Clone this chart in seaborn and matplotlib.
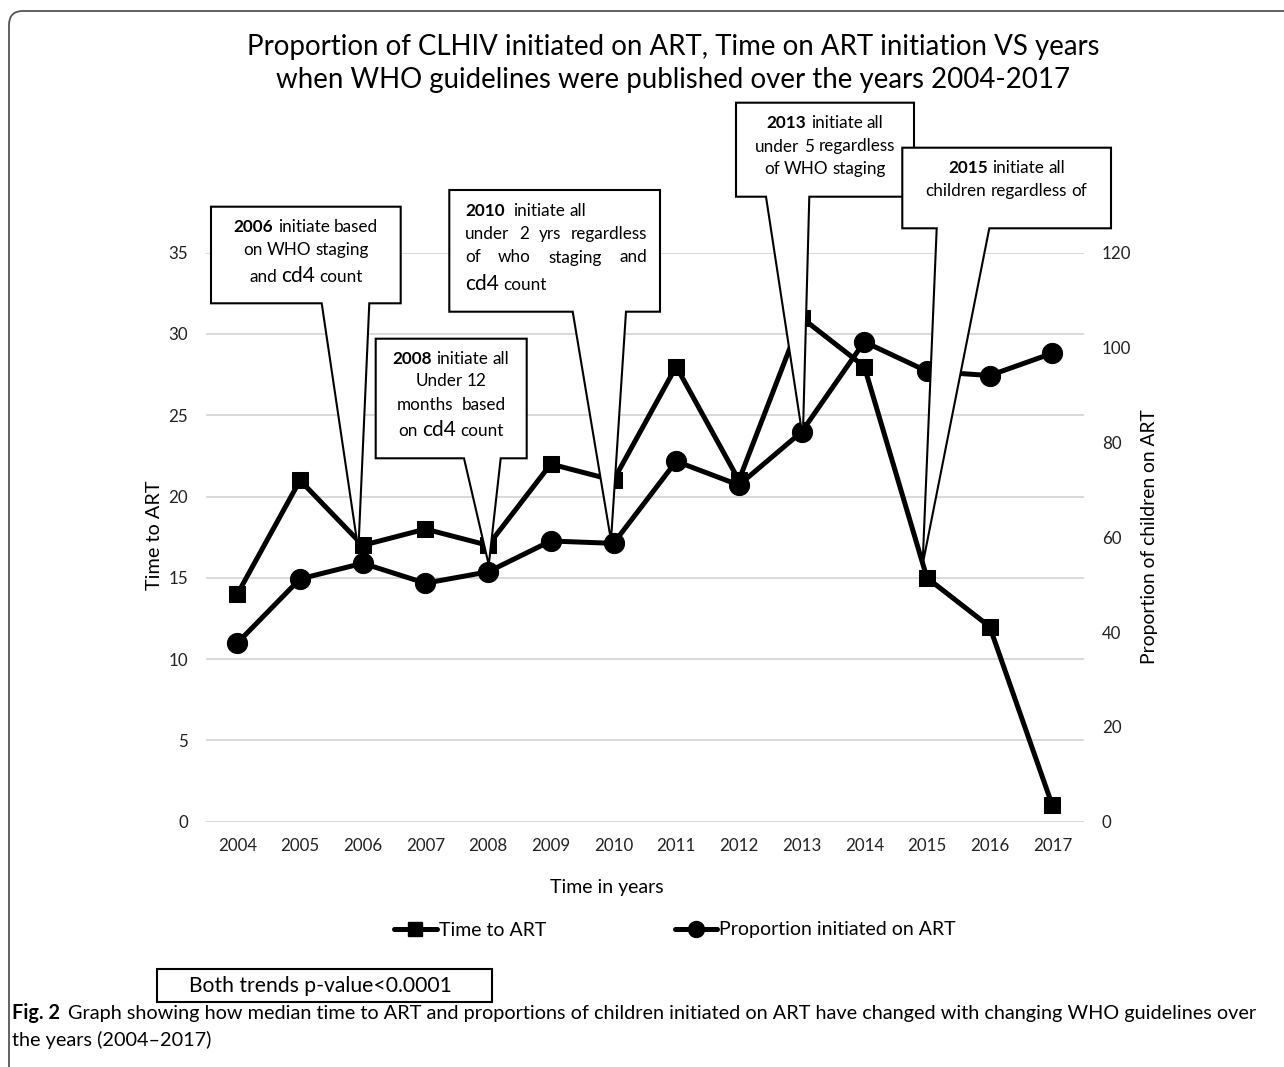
import matplotlib
matplotlib.use("Agg")
import matplotlib.pyplot as plt
import seaborn as sns
import numpy as np
import pandas as pd
from matplotlib.patches import Polygon, FancyBboxPatch, Rectangle
from matplotlib.lines import Line2D
from matplotlib.transforms import IdentityTransform

# ---------------- data ----------------
years = [2004, 2005, 2006, 2007, 2008, 2009, 2010, 2011, 2012, 2013, 2014, 2015, 2016, 2017]
time_to_art = [14, 21, 17, 18, 17, 22, 21, 28, 21, 31, 28, 15, 12, 1]
prop_on_art = [37.7, 51.2, 54.5, 50.3, 52.7, 59.2, 58.7, 76.0, 71.0, 82.2, 101.2, 95.0, 94.1, 98.8]
left_ticks = [0, 5, 10, 15, 20, 25, 30, 35]
right_ticks = [0, 20, 40, 60, 80, 100, 120]

title_lines = ["Proportion of CLHIV initiated on ART, Time on ART initiation VS years",
               "when WHO guidelines were published over the years 2004-2017"]
series_names = ["Time to ART", "Proportion initiated on ART"]
xlabel = "Time in years"
ylabel_left = "Time to ART"
ylabel_right = "Proportion of children on ART"
pvalue_text = "Both trends p-value<0.0001"
caption_bold = "Fig. 2"
caption_line1 = "Graph showing how median time to ART and proportions of children initiated on ART have changed with changing WHO guidelines over"
caption_line2 = "the years (2004\u20132017)"

W, H = 1284, 1067
sns.set_theme(style="white")
plt.rcParams['font.family'] = ['Lato', 'DejaVu Sans']
plt.rcParams['text.color'] = 'black'

fig = plt.figure(figsize=(W / 100, H / 100), dpi=100)
fig.patch.set_facecolor('white')
renderer = fig.canvas.get_renderer()
ID = IdentityTransform()

ax_l, ax_r, ax_t, ax_b = 206, 1083.7, 252.7, 821.7
ax = fig.add_axes([ax_l / W, 1 - ax_b / H, (ax_r - ax_l) / W, (ax_b - ax_t) / H])
ax2 = ax.twinx()

df = pd.DataFrame({"year": years, "time": time_to_art, "prop": prop_on_art})

sns.lineplot(data=df, x="year", y="time", ax=ax, color="black", linewidth=3.6,
             marker="s", markersize=12, markeredgecolor="black", legend=False)
sns.lineplot(data=df, x="year", y="prop", ax=ax2, color="black", linewidth=3.6,
             marker="o", markersize=14.5, markeredgecolor="black", legend=False)

ax.set_xlim(2003.5, 2017.5)
ax.set_ylim(0, 35)
ax2.set_ylim(0, 120)
ax.set_xticks(years)
ax.set_xticklabels([str(y) for y in years])
ax.set_yticks(left_ticks)
ax2.set_yticks(right_ticks)
ax.yaxis.grid(True, color="#d9d9d9", linewidth=1.4)
ax.xaxis.grid(False)
ax2.grid(False)
ax.set_axisbelow(True)
for a in (ax, ax2):
    for s in a.spines.values():
        s.set_visible(False)
    a.set_xlabel("")
    a.set_ylabel("")
ax.tick_params(axis="both", length=0, labelsize=12.2, colors="#222222")
ax.tick_params(axis="y", pad=13)
ax.tick_params(axis="x", pad=12)
ax2.tick_params(axis="y", length=0, labelsize=12.2, pad=13, colors="#222222")

# ---------------- helpers (pixel coordinates, y from top) ----------------
def put(x, y, s, size, weight="normal", ha="left", va="baseline", z=20, rot=0):
    return fig.text(x, H - y, s, transform=ID, fontsize=size, fontweight=weight,
                    ha=ha, va=va, zorder=z, rotation=rot, color="black")

def wid(t):
    return t.get_window_extent(renderer).width

def space_w(size, weight="normal"):
    a = put(0, 0, "x x", size, weight)
    b = put(0, 0, "xx", size, weight)
    w = wid(a) - wid(b)
    a.remove(); b.remove()
    return w

def rich(x, y, words, align="center", z=20, justify=None):
    texts = [put(0, y, s, sz, wt, z=z) for s, sz, wt in words]
    ws = [wid(t) for t in texts]
    base_size = min(sz for _, sz, _ in words)
    gap = space_w(base_size)
    if justify is not None and len(words) > 1:
        gap = (justify - sum(ws)) / (len(words) - 1)
    total = sum(ws) + gap * (len(words) - 1)
    cx = x - total / 2 if align == "center" else x
    for t, w in zip(texts, ws):
        t.set_position((cx, H - y))
        cx += w + gap
    return texts

def fit(x, y, s, target, size0, weight="normal", ha="left", va="baseline", z=20):
    t = put(x, y, s, size0, weight, ha=ha, va=va, z=z)
    w = wid(t)
    t.set_fontsize(size0 * target / w)
    return t

# ---------------- callouts ----------------
def callout(box, base, tip_data, z):
    x0, y0, x1, y1 = box
    tx, ty = ax.transData.transform(tip_data)
    pts = [(x0, H - y0), (x1, H - y0), (x1, H - y1), (base[1], H - y1),
           (tx, ty), (base[0], H - y1), (x0, H - y1)]
    poly = Polygon(pts, closed=True, transform=ID, facecolor="white",
                   edgecolor="black", linewidth=1.5, zorder=z, joinstyle="miter")
    fig.add_artist(poly)

S = 12.3
B = 15.0
# 2006
callout((211, 206.7, 400.7, 303.3), (321.7, 369.3), (2006 - 0.07, 16.7), 10)
rich(306, 231.5, [("2006", S, "bold"), ("initiate", S, "normal"), ("based", S, "normal")], z=11)
rich(306, 255, [("on", S, "normal"), ("WHO", S, "normal"), ("staging", S, "normal")], z=11)
rich(306, 282.5, [("and", S, "normal"), ("cd4", B, "normal"), ("count", S, "normal")], z=11)
# 2008
callout((375.7, 338.7, 526.7, 458.3), (464, 500.7), (2008 + 0.01, 15.8), 12)
rich(451, 364, [("2008", S, "bold"), ("initiate", S, "normal"), ("all", S, "normal")], z=13)
rich(451, 386.5, [("Under", S, "normal"), ("12", S, "normal")], z=13)
rich(451, 409.5, [("months", S, "normal"), ("", S, "normal"), ("based", S, "normal")], z=13)
rich(451, 436.5, [("on", S, "normal"), ("cd4", B, "normal"), ("count", S, "normal")], z=13)
# 2010
callout((449.3, 190, 660, 311.7), (572.7, 626), (2010 - 0.04, 17.3), 14)
rich(465, 216.5, [("2010", S, "bold"), ("", S, "normal"), ("initiate", S, "normal"), ("all", S, "normal")], align="left", z=15)
rich(465, 239, [("under", S, "normal"), ("2", S, "normal"), ("yrs", S, "normal"), ("regardless", S, "normal")], align="left", z=15, justify=182)
rich(465, 262.5, [("of", S, "normal"), ("who", S, "normal"), ("staging", S, "normal"), ("and", S, "normal")], align="left", z=15, justify=182)
rich(465, 289.5, [("cd4", B, "normal"), ("count", S, "normal")], align="left", z=15)
# 2013
callout((736, 102.7, 914, 196.7), (766, 809.3), (2013 + 0.02, 23.6), 16)
rich(825, 128, [("2013", S, "bold"), ("initiate", S, "normal"), ("all", S, "normal")], z=17)
rich(825, 151.5, [("under", S, "normal"), ("5", S, "normal"), ("regardless", S, "normal")], z=17)
rich(825, 174, [("of", S, "normal"), ("WHO", S, "normal"), ("staging", S, "normal")], z=17)
# 2015
callout((902.3, 147.7, 1111, 228.3), (936.7, 989.3), (2015 - 0.07, 15.8), 18)
rich(1006.5, 173, [("2015", S, "bold"), ("initiate", S, "normal"), ("all", S, "normal")], z=19)
rich(1006.5, 196, [("children", S, "normal"), ("regardless", S, "normal"), ("of", S, "normal")], z=19)

# ---------------- titles & labels ----------------
fit(673, 55, title_lines[0], 850, 17.5, ha="center")
fit(673, 88, title_lines[1], 793, 17.5, ha="center")
put(155, 535, ylabel_left, 14.3, ha="center", va="center", rot=90)
put(1150, 537, ylabel_right, 13.9, ha="center", va="center", rot=90)
put(607, 887, xlabel, 14.0, ha="center", va="center")

# legend
handles = [Line2D([], [], color="black", lw=3.6, marker="s", markersize=10.5),
           Line2D([], [], color="black", lw=3.6, marker="o", markersize=11.5)]
fig.legend(handles, series_names, loc="center", bbox_to_anchor=(675 / W, 1 - 930 / H),
           ncol=2, frameon=False, fontsize=14, handlelength=2.2, handletextpad=0.1,
           columnspacing=6.6)

# p-value box
fig.add_artist(Rectangle((157.3, H - 1002), 335, 33, transform=ID, facecolor="white",
                         edgecolor="black", linewidth=1.5, zorder=5))
put(320, 986, pvalue_text, 15.2, ha="center", va="center", z=6)

# caption: fit first line, use the same size for everything
probe = put(0, 0, "Fig. 2 " + caption_line1, 11)
cap_size = 11 * (1250 - 12) / wid(probe)
probe.remove()
tb = put(12, 1019, caption_bold, cap_size, weight="bold")
bw = wid(tb)
put(12 + bw + 8, 1019, caption_line1, cap_size)
put(12, 1046, caption_line2, cap_size)

# outer frame
fig.add_artist(FancyBboxPatch((9, -40), 1400, H - 11 + 40, boxstyle="round,pad=0,rounding_size=14",
                              transform=ID, facecolor="none", edgecolor="#555555",
                              linewidth=1.3, zorder=1))

fig.savefig("out.png", dpi=100, facecolor="white")
